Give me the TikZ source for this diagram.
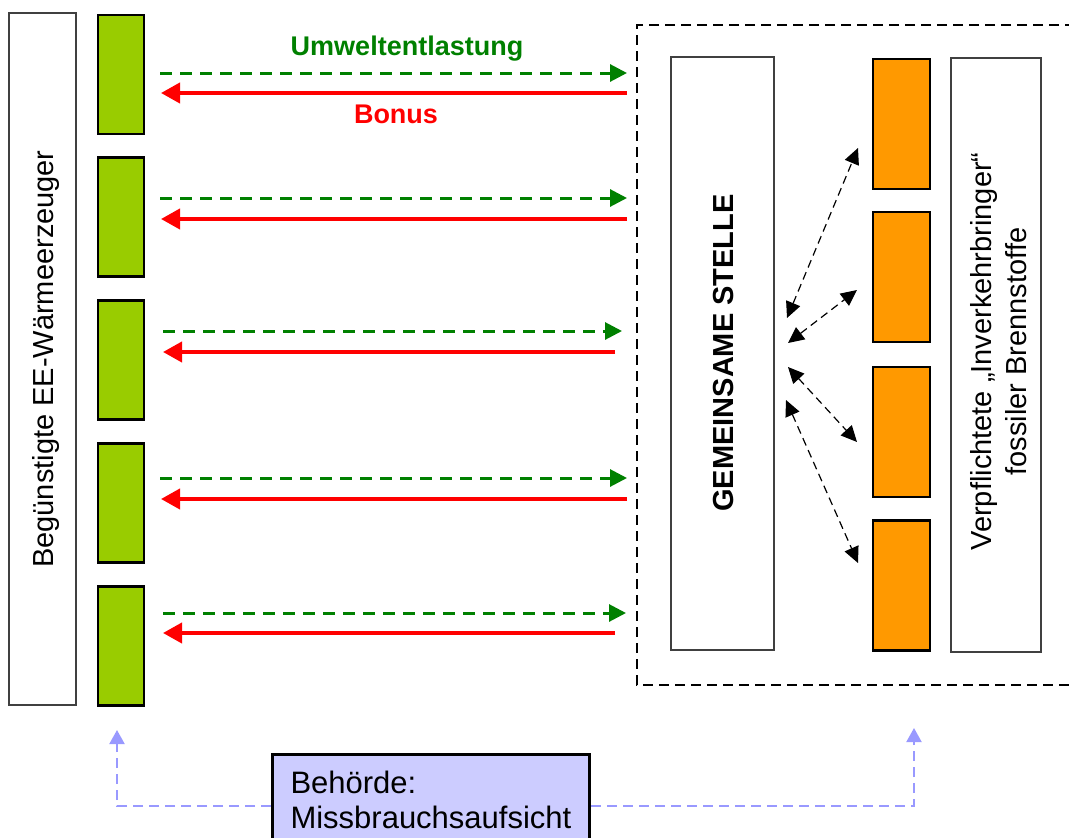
\documentclass[tikz,border=0pt]{standalone}
\usepackage{fontspec}
\setmainfont{Liberation Sans}
\usetikzlibrary{arrows.meta}

\definecolor{eegreen}{HTML}{99CC00}
\definecolor{fossil}{HTML}{FF9900}
\definecolor{relief}{HTML}{008000}
\definecolor{bonusred}{HTML}{FF0000}
\definecolor{authority}{HTML}{CCCCFF}
\definecolor{watch}{HTML}{9999FF}
\definecolor{framegray}{HTML}{404040}

\begin{document}
\begin{tikzpicture}[x=1pt,y=-1pt,
  framebox/.style={draw=framegray,line width=1.5pt,fill=white,inner sep=0pt},
  eebox/.style={draw=black,line width=2.7pt,fill=eegreen,inner sep=0pt,
    minimum width=46pt,minimum height=119pt},
  fossilbox/.style={draw=black,line width=2.7pt,fill=fossil,inner sep=0pt,
    minimum width=57pt,minimum height=130pt},
  reliefarrow/.style={draw=relief,line width=3pt,dash pattern=on 12pt off 8pt,
    -{Triangle[length=17pt,width=17pt]}},
  bonusarrow/.style={draw=bonusred,line width=4pt,
    -{Triangle[length=19pt,width=20pt]}},
  linkarrow/.style={draw=black,line width=1.2pt,dash pattern=on 8pt off 5pt,
    {Triangle[length=16pt,width=15pt]}-{Triangle[length=16pt,width=15pt]}},
  watcharrow/.style={draw=watch,line width=2pt,dash pattern=on 10pt off 6pt,
    -{Triangle[length=14pt,width=15pt]}},
  rottext/.style={rotate=90,inner sep=0pt,font=\fontsize{29}{35}\selectfont},
  flowlabel/.style={inner sep=0pt,font=\fontsize{27}{32}\selectfont\bfseries}
]
\useasboundingbox (0,0) rectangle (1069,838);

% dashed frame around the joint office and the obligated parties
\draw[line width=2.5pt,dash pattern=on 10pt off 6pt]
  (1075,25) -- (637,25) -- (637,685) -- (1075,685);

% beneficiaries
\node[framebox,minimum width=67pt,minimum height=692pt] (benef) at (42.5,359) {};
\node[rottext,anchor=base] (beneftext) at (53,359) {Begünstigte EE-Wärmeerzeuger};

\node[eebox] (g1) at (121,74.5) {};
\node[eebox] (g2) at (121,217) {};
\node[eebox] (g3) at (121,360) {};
\node[eebox] (g4) at (121,503) {};
\node[eebox] (g5) at (121,646) {};

% joint office
\node[framebox,minimum width=103pt,minimum height=593pt] (office) at (722.5,353.5) {};
\node[rottext,anchor=base,font=\fontsize{29}{35}\selectfont\bfseries] (officetext)
  at (733,353) {GEMEINSAME STELLE};

% obligated parties
\node[fossilbox] (f1) at (901.5,124) {};
\node[fossilbox] (f2) at (901.5,277) {};
\node[fossilbox] (f3) at (901.5,432) {};
\node[fossilbox] (f4) at (901.5,585.5) {};

\node[framebox,minimum width=90pt,minimum height=594pt] (oblig) at (996,355) {};
\node[rottext,align=center] (obligtext) at (998.5,351.5)
  {Verpflichtete „Inverkehrbringer“\\fossiler Brennstoffe};

% flow labels
\node[flowlabel,text=relief,anchor=base] (umwelt) at (407,55) {Umweltentlastung};
\node[flowlabel,text=bonusred,anchor=base] (bonus) at (396,123.5) {Bonus};

% environmental relief and bonus flows
\coordinate (gs1) at (160,73);  \coordinate (ge1) at (627,73);
\coordinate (rs1) at (627,93);  \coordinate (re1) at (161,93);
\coordinate (gs2) at (160,198); \coordinate (ge2) at (627,198);
\coordinate (rs2) at (627,219); \coordinate (re2) at (161,219);
\coordinate (gs3) at (163,331); \coordinate (ge3) at (622,331);
\coordinate (rs3) at (615,352); \coordinate (re3) at (163,352);
\coordinate (gs4) at (160,478); \coordinate (ge4) at (627,478);
\coordinate (rs4) at (627,499); \coordinate (re4) at (161,499);
\coordinate (gs5) at (163,613); \coordinate (ge5) at (626,613);
\coordinate (rs5) at (615,633); \coordinate (re5) at (163,633);

\foreach \i in {1,...,5}{
  \draw[reliefarrow] (gs\i) -- (ge\i);
  \draw[bonusarrow] (rs\i) -- (re\i);
}

% exchange between the joint office and the obligated parties
\coordinate (la1) at (787,318); \coordinate (lb1) at (858,148);
\coordinate (la2) at (788,343); \coordinate (lb2) at (857,290);
\coordinate (la3) at (788,367); \coordinate (lb3) at (857,442);
\coordinate (la4) at (786,400); \coordinate (lb4) at (858,563);
\foreach \i in {1,...,4}{
  \draw[linkarrow] (la\i) -- (lb\i);
}

% supervising authority
\coordinate (wl) at (117,806);  \coordinate (wlt) at (117,730);
\coordinate (wr) at (914,806);  \coordinate (wrt) at (914,728);
\node[draw=black,line width=3pt,fill=authority,anchor=north west,
  inner xsep=18pt,inner ysep=16.5pt,text width=281pt,align=left,
  font=\fontsize{31}{35}\selectfont] (auth) at (271,753)
  {Behörde:\\Missbrauchsaufsicht};
\draw[watcharrow] (auth.west |- wl) -- (wl) -- (wlt);
\draw[watcharrow] (auth.east |- wr) -- (wr) -- (wrt);
\end{tikzpicture}
\end{document}
